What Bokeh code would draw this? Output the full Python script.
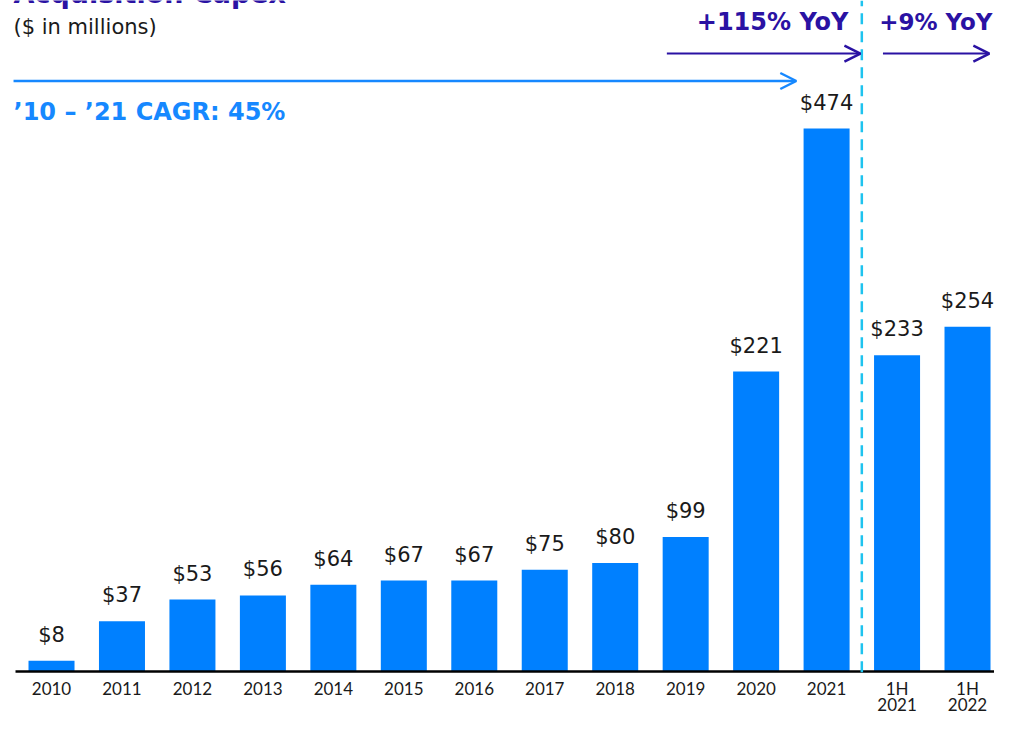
import numpy as np
from bokeh.plotting import figure
from bokeh.models import (ColumnDataSource, Range1d, Arrow, OpenHead, Label)
from bokeh.core.properties import value
from bokeh.embed import file_html
from bokeh.resources import INLINE

# ---- data ----
categories = ["2010", "2011", "2012", "2013", "2014", "2015", "2016", "2017",
              "2018", "2019", "2020", "2021", "1H\n2021", "1H\n2022"]
capex = [8, 37, 53, 56, 64, 67, 67, 75, 80, 99, 221, 474, 233, 254]
labels = ["$" + str(v) for v in capex]
axis_break = 400          # 2021 bar drawn on a broken (capped) axis
title_text = "Acquisition Capex"
subtitle_text = "($ in millions)"
cagr_text = "\u201910 \u2013 \u201921 CAGR: 45%"
yoy_full = "+115% YoY"
yoy_half = "+9% YoY"

# ---- styles ----
BAR = "#0080ff"
INDIGO = "#2a12a3"
CAGR_BLUE = "#1688ff"
DASH_CYAN = "#1ec3ef"
LABEL_FONT = "DejaVu Sans"
BOLD_FONT = "DejaVu Sans"
TICK_FONT = "Lato"

xs = np.arange(len(capex))
tops = np.minimum(np.array(capex), axis_break)
row1 = [c.split("\n")[0] for c in categories]
row2 = [c.split("\n")[1] if "\n" in c else "" for c in categories]
src = ColumnDataSource(dict(x=xs, top=tops, label=labels, row1=row1, row2=row2,
                            base=np.zeros(len(capex))))

X0, X1 = -0.724, 13.383
Y0, Y1 = -32.4, 494.3
p = figure(width=994, height=715, output_backend="svg", toolbar_location=None,
           x_range=Range1d(X0, X1), y_range=Range1d(Y0, Y1),
           x_axis_location=None, y_axis_location=None,
           min_border_left=0, min_border_right=0, min_border_top=0, min_border_bottom=0)
p.outline_line_color = None
p.grid.visible = False
p.background_fill_color = "white"

p.vbar(x="x", top="top", width=0.653, source=src, fill_color=BAR, line_color=None)
p.text(x="x", y="top", text="label", source=src, text_align="center",
       text_baseline="middle", y_offset=-26, text_font=value(LABEL_FONT),
       text_font_size="21px", text_color="#1a1a1a")

# category axis: baseline and two-row labels
p.segment(x0=[-0.511], y0=[0], x1=[X1], y1=[0], line_color="black", line_width=2.5)
tick_style = dict(text_align="center", text_baseline="middle",
                  text_font=value(TICK_FONT), text_font_size="17px",
                  text_color="#1a1a1a")
p.text(x="x", y="base", text="row1", source=src, y_offset=17, **tick_style)
p.text(x="x", y="base", text="row2", source=src, y_offset=33, **tick_style)

# divider between full-year and half-year (from baseline to top)
split_x = (len(capex) - 2) - 0.5
p.segment(x0=[split_x], y0=[-0.5], x1=[split_x], y1=[Y1], line_color=DASH_CYAN,
          line_width=2.5, line_dash="11 7")

# annotation texts
bold = dict(text_font=BOLD_FONT, text_font_style="bold", text_baseline="middle")
p.add_layout(Label(x=-0.539, y=499.4, text=title_text, text_color=INDIGO,
                   text_font_size="27px", **bold))
p.add_layout(Label(x=-0.539, y=475.1, text=subtitle_text, text_font=LABEL_FONT,
                   text_font_size="21px", text_color="#1a1a1a",
                   text_baseline="middle"))
p.add_layout(Label(x=-0.539, y=412.5, text=cagr_text, text_color=CAGR_BLUE,
                   text_font_size="24px", **bold))
p.add_layout(Label(x=11.31, y=478.8, text=yoy_full, text_color=INDIGO,
                   text_align="right", text_font_size="24px", **bold))
p.add_layout(Label(x=13.355, y=478.8, text=yoy_half, text_color=INDIGO,
                   text_align="right", text_font_size="23px", **bold))

# arrows
p.add_layout(Arrow(x_start=-0.539, y_start=435.0, x_end=10.57, y_end=435.0,
                   line_color=CAGR_BLUE, line_width=2.5,
                   end=OpenHead(size=16, line_color=CAGR_BLUE, line_width=2.5)))
p.add_layout(Arrow(x_start=8.733, y_start=455.2, x_end=11.48, y_end=455.2,
                   line_color=INDIGO, line_width=2,
                   end=OpenHead(size=16, line_color=INDIGO, line_width=2.5)))
p.add_layout(Arrow(x_start=11.80, y_start=455.2, x_end=13.31, y_end=455.2,
                   line_color=INDIGO, line_width=2,
                   end=OpenHead(size=16, line_color=INDIGO, line_width=2.5)))

open("out.html", "w").write(file_html(p, INLINE))
